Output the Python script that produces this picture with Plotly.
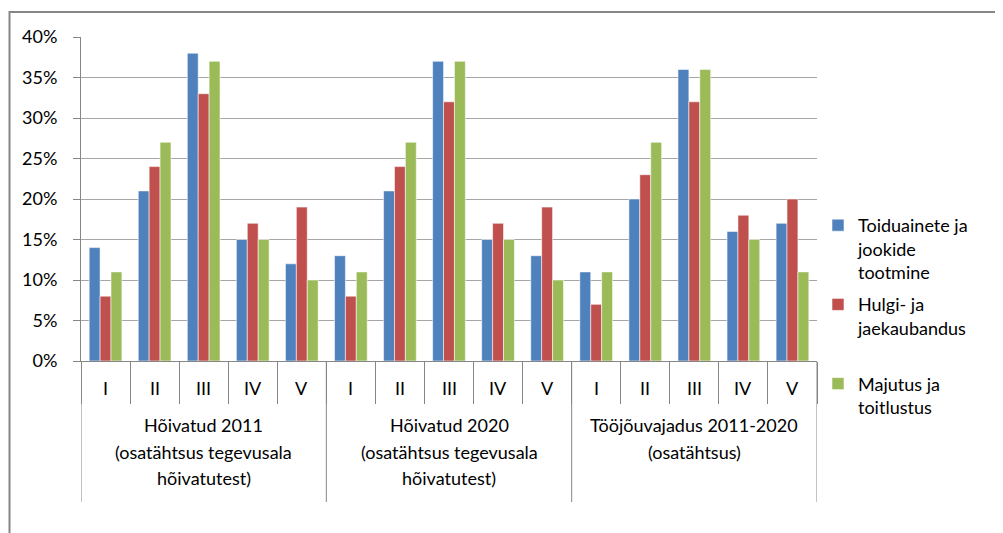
import plotly.graph_objects as go

# ---- data ----
groups = [
    ["Hõivatud 2011", "(osatähtsus tegevusala", "hõivatutest)"],
    ["Hõivatud 2020", "(osatähtsus tegevusala", "hõivatutest)"],
    ["Tööjõuvajadus 2011-2020", "(osatähtsus)"],
]
levels = ["I", "II", "III", "IV", "V"]
series_names = ["Toiduainete ja<br>jookide<br>tootmine", "Hulgi- ja<br>jaekaubandus<br> ", "Majutus ja<br>toitlustus"]
toiduained = [14, 21, 38, 15, 12, 13, 21, 37, 15, 13, 11, 20, 36, 16, 17]
kaubandus = [8, 24, 33, 17, 19, 8, 24, 32, 17, 19, 7, 23, 32, 18, 20]
majutus = [11, 27, 37, 15, 10, 11, 27, 37, 15, 10, 11, 27, 36, 15, 11]
colors = ["#4F81BD", "#C0504D", "#9BBB59"]

cats = [f"{g[0]}|{lv}" for g in groups for lv in levels]

FONT = "Lato, 'Open Sans', sans-serif"
GRAY = "#868686"

# page offset (body margin) and plot area in page px
OFF = 8
W, H = 1003, 533
PL, PR, PT, PB = 81, 817, 37, 361  # plot area edges in page px
L, T = PL - OFF, PT - OFF
R, B = W - (PR - OFF), H - (PB - OFF)
PW, PH = PR - PL, PB - PT


def px2x(px):
    return (px - PL) / PW


def py2y(py):
    return (PB - py) / PH


fig = go.Figure()
for name, vals, col in zip(series_names, [toiduained, kaubandus, majutus], colors):
    fig.add_trace(go.Bar(
        x=cats, y=vals, name=name, legendgroup=name,
        marker=dict(color=col, line=dict(color="rgba(255,255,255,0.55)", width=1)),
    ))

annotations = []
# level labels
for c in cats:
    annotations.append(dict(
        x=c, xref="x", y=py2y(388), yref="paper", text=c.split("|")[1],
        showarrow=False, font=dict(size=18, color="#000", family=FONT),
        xanchor="center", yanchor="middle",
    ))
# group labels (one annotation per line for exact spacing)
for gi, g in enumerate(groups):
    mid = cats[gi * len(levels) + len(levels) // 2]
    for li, line in enumerate(g):
        annotations.append(dict(
            x=mid, xref="x", y=py2y(425 + li * 26.5), yref="paper", text=line,
            showarrow=False, font=dict(size=18, color="#000", family=FONT),
            xanchor="center", yanchor="middle",
        ))

shapes = []
# group separator lines
for k in range(len(groups) + 1):
    xb = k * len(levels) - 0.5
    shapes.append(dict(type="line", xref="x", yref="paper", x0=xb, x1=xb,
                       y0=0, y1=py2y(502), line=dict(color=GRAY, width=1)))
# chart area border
shapes.append(dict(type="rect", xref="paper", yref="paper",
                   x0=px2x(9.5), x1=px2x(1030), y0=py2y(12), y1=py2y(560),
                   line=dict(color=GRAY, width=2), fillcolor="rgba(0,0,0,0)", layer="below"))

fig.update_layout(
    width=W, height=H,
    margin=dict(l=L, r=R, t=T, b=B, autoexpand=False),
    paper_bgcolor="white", plot_bgcolor="white",
    font=dict(family=FONT, size=18, color="#000"),
    barmode="group", bargap=0.333, bargroupgap=0,
    showlegend=True,
    legend=dict(
        x=px2x(818), y=py2y(207), xanchor="left", yanchor="top",
        font=dict(size=18, family=FONT, color="#000"),
        valign="top", tracegroupgap=6, bgcolor="rgba(0,0,0,0)",
    ),
    annotations=annotations, shapes=shapes,
)
fig.update_xaxes(
    type="category", showticklabels=False, showgrid=False,
    showline=True, linecolor=GRAY, linewidth=1,
    ticks="outside", tickson="boundaries", ticklen=42, tickcolor=GRAY, tickwidth=1,
    range=[-0.5, len(cats) - 0.5],
)
fig.update_yaxes(
    range=[0, 40], dtick=5, ticksuffix="%",
    showgrid=True, gridcolor="#A6A6A6", gridwidth=1,
    showline=True, linecolor=GRAY, linewidth=1,
    ticks="outside", ticklen=7, tickcolor=GRAY,
    tickfont=dict(size=18, family=FONT, color="#000"),
    ticklabelstandoff=12, zeroline=False,
)

fig.write_html("out.html")
